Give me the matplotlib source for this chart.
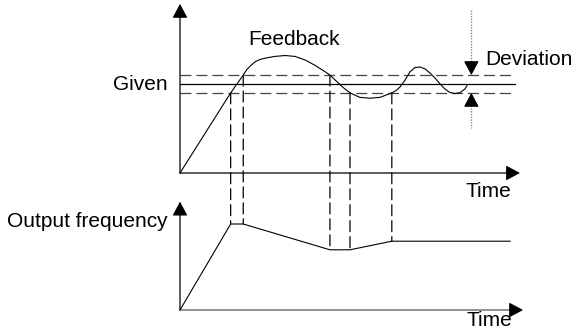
import matplotlib
matplotlib.use("Agg")
import matplotlib.pyplot as plt
from matplotlib.patches import ConnectionPatch

plt.rcParams['font.family'] = ['Liberation Sans', 'DejaVu Sans']
plt.rcParams['lines.scale_dashes'] = False

# feedback curve (time, value), given = 1.0
fb_t = [0.0, 1.49, 1.86, 1.96, 2.06, 2.21, 2.35, 2.50, 2.79, 3.09, 3.38, 3.68, 3.97,
        4.26, 4.41, 4.66, 4.80, 5.00, 5.29, 5.59, 5.88, 6.23, 6.35, 6.47, 6.62,
        6.76, 6.91, 7.06, 7.21, 7.35, 7.50, 7.65, 7.79, 7.94, 8.09, 8.24, 8.38, 8.44]
fb_v = [0.0, 0.90, 1.10, 1.16, 1.20, 1.25, 1.275, 1.29, 1.31, 1.32, 1.31, 1.27, 1.21,
        1.14, 1.10, 1.01, 0.96, 0.90, 0.85, 0.84, 0.85, 0.90, 0.925, 0.966, 1.045,
        1.135, 1.185, 1.191, 1.169, 1.124, 1.067, 1.00, 0.944, 0.904, 0.893, 0.904, 0.944, 0.98]
given = 1.0
band = 0.1
band_end = 9.85

# times where feedback leaves / enters the band
cross_t = [1.49, 1.86, 4.41, 5.00, 6.23]
cross_v = [0.90, 1.10, 1.10, 0.90, 0.90]
cross_f = [50, 50, 35, 35, 40]

# output frequency
out_t = [0.0, 1.49, 1.86, 4.41, 5.00, 6.23, 9.71]
out_f = [0, 50, 50, 35, 35, 40, 40]

dev_t = 8.57

W, H = 573, 331
fig = plt.figure(figsize=(W / 100, H / 100), dpi=100)
ax1 = fig.add_axes([180 / W, (H - 173) / H, 340 / W, 169.1 / H])
ax2 = fig.add_axes([180 / W, (H - 310) / H, 340 / W, 108.36 / H])
ax1.set_xlim(0, 10)
ax1.set_ylim(0, 1.9)
ax2.set_xlim(0, 10)
ax2.set_ylim(0, 63)
for a in (ax1, ax2):
    a.axis('off')

head = '-|>,head_length=0.86,head_width=0.46'


def arrow(ax, x0, y0, x1, y1, color='k'):
    ax.annotate('', xy=(x1, y1), xytext=(x0, y0), annotation_clip=False,
                arrowprops=dict(arrowstyle=head, mutation_scale=10, lw=0.9,
                                color=color, shrinkA=0, shrinkB=0))


# axes with arrows
arrow(ax1, 0, 0, 10, 0)
arrow(ax1, 0, 0, 0, 1.9)
ax2.plot([0, 9.9], [0, 0], color='#808080', lw=1.2, clip_on=False)
arrow(ax2, 9.7, 0, 10.09, 0)
arrow(ax2, 0, 0, 0, 63)

# given and deviation band
ax1.plot([0, band_end], [given, given], color='k', lw=0.9)
for v in (given + band, given - band):
    ax1.plot([0, band_end - 0.05], [v, v], color='#444444', lw=0.9, dashes=(7.9, 3.6))

# feedback
ax1.plot(fb_t, fb_v, color='k', lw=0.8, clip_on=False)

# output frequency
ax2.plot(out_t, out_f, color='k', lw=0.8)

# dashed links between the two plots
for t, v, f in zip(cross_t, cross_v, cross_f):
    con = ConnectionPatch(xyA=(t, v), coordsA=ax1.transData,
                          xyB=(t, f), coordsB=ax2.transData,
                          color='k', lw=0.9, linestyle=(0, (7.9, 3.6)))
    fig.add_artist(con)

# deviation markers
ax1.plot([dev_t, dev_t], [1.83, 1.25], color='#888888', lw=1, dashes=(1, 1), clip_on=False)
ax1.plot([dev_t, dev_t], [0.76, 0.506], color='#888888', lw=1, dashes=(1, 1))
arrow(ax1, dev_t, 1.25, dev_t, given + band)
arrow(ax1, dev_t, 0.76, dev_t, given - band)

fs = 15
ax1.text(-0.35, 0.933, 'Given', ha='right', va='baseline', fontsize=fs)
ax1.text(3.35, 1.438, 'Feedback', ha='center', va='baseline', fontsize=fs)
ax1.text(8.97, 1.213, 'Deviation', ha='left', va='baseline', fontsize=fs)
ax1.text(9.06, -0.266, 'Time', ha='center', va='baseline', fontsize=fs)
ax2.text(-0.35, 48.4, 'Output frequency', ha='right', va='baseline', fontsize=fs)
ax2.text(9.09, -9.4, 'Time', ha='center', va='baseline', fontsize=fs)

fig.savefig('out.png', dpi=100)
